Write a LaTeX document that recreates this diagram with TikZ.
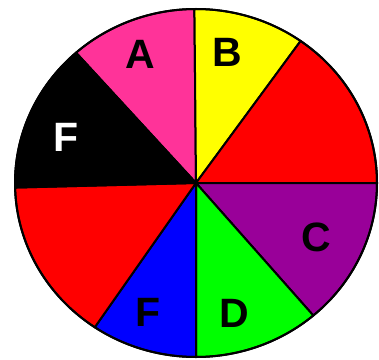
\documentclass[tikz,border=0pt]{standalone}
\usepackage{fontspec}
\setmainfont{Liberation Sans}
\definecolor{wpink}{HTML}{FF3399}
\definecolor{wyellow}{HTML}{FFFF00}
\definecolor{wred}{HTML}{FF0000}
\definecolor{wpurple}{HTML}{990099}
\definecolor{wgreen}{HTML}{00FF00}
\definecolor{wblue}{HTML}{0000FF}
\begin{document}
\begin{tikzpicture}[x=1pt,y=1pt,
  sector/.style={draw=black,line width=2pt,line join=round},
  lbl/.style={inner sep=0pt,font=\fontsize{41}{41}\selectfont\bfseries}]
\useasboundingbox (0,0) rectangle (379,359);
\coordinate (c) at (196,176);
\newcommand\wsect[3]{\filldraw[sector,fill=#3] (c) -- ++(#1:181 and 174) arc[start angle=#1,end angle=#2,x radius=181,y radius=174] -- cycle;}
\wsect{90.5}{131.5}{wpink}
\wsect{54.7}{90.5}{wyellow}
\wsect{0}{54.7}{wred}
\wsect{-49.6}{0}{wpurple}
\wsect{-90}{-49.6}{wgreen}
\wsect{-124}{-90}{wblue}
\wsect{-178.5}{-124}{wred}
\wsect{131.5}{181.5}{black}
\draw[line width=2pt] (c) ellipse[x radius=181,y radius=174];
\node[lbl] (la) at (140,305) {A};
\node[lbl] (lb) at (227,307) {B};
\node[lbl,text=white] (lf1) at (66,222) {F};
\node[lbl] (lc) at (316,122) {C};
\node[lbl] (ld) at (234,46) {D};
\node[lbl] (lf2) at (148,47) {F};
\end{tikzpicture}
\end{document}
